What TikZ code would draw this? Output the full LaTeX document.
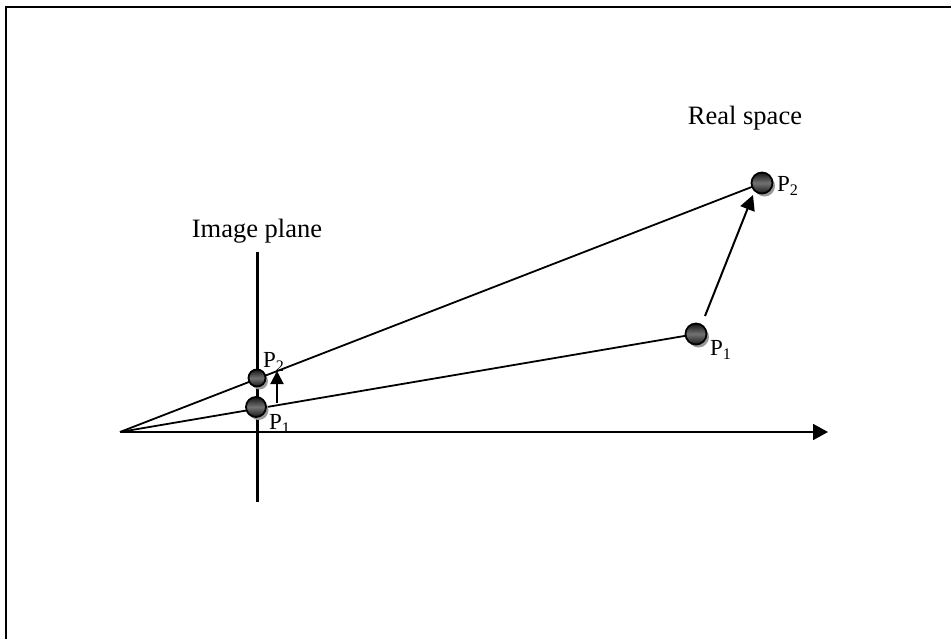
\documentclass[tikz,border=0pt]{standalone}
\usepackage{fontspec}
\setmainfont{Liberation Serif}
\usetikzlibrary{arrows.meta,backgrounds,shadows}
\begin{document}
\begin{tikzpicture}[x=1pt,y=-1pt,
  ball/.style={circle,draw=black,line width=1.8pt,inner sep=0pt,minimum size=#1,
    top color=black!92,bottom color=black!90,middle color=black!55,
    drop shadow={shadow xshift=2.5pt,shadow yshift=-3pt,fill=black!40,opacity=1}},
  ball/.default=20pt,
  lbl/.style={inner sep=0pt,font=\fontsize{23}{26}\selectfont},
  ttl/.style={inner sep=0pt,font=\fontsize{26.5}{30}\selectfont},
  ray/.style={line width=1.8pt}]
\useasboundingbox (0,0) rectangle (951,638);
\draw[line width=2.2pt] (6,640) -- (6,7) -- (951,7);
\coordinate (O) at (120,432);
\coordinate (axisend) at (828,432);
\coordinate (ptop) at (257,252);
\coordinate (pbot) at (257,502);
\node[ball=21pt] (rP1) at (696,334) {};
\node[ball=21pt] (rP2) at (762,183) {};
\node[ball=17pt] (iP2) at (257,378) {};
\node[ball=20pt] (iP1) at (256,407) {};
\begin{pgfonlayer}{background}
\draw[line width=3pt] (ptop) -- (pbot);
\draw[ray,-{Triangle[length=15pt,width=16pt]}] (O) -- (axisend);
\draw[ray] (O) -- (rP2.center);
\draw[ray] (O) -- (rP1.center);
\end{pgfonlayer}
\coordinate (sa) at (277,403);
\coordinate (sb) at (277,371);
\draw[line width=2pt,-{Triangle[length=13pt,width=13pt]}] (sa) -- (sb);
\coordinate (ra) at (705,316);
\coordinate (rb) at (753,195);
\draw[line width=2pt,-{Triangle[length=15pt,width=15pt]}] (ra) -- (rb);
\node[ttl] (rs) at (745,118) {Real space};
\node[ttl] (ip) at (257,231) {Image plane};
\node[lbl,anchor=west] (lrP2) at (777,186) {P\textsubscript{2}};
\node[lbl,anchor=west] (lrP1) at (710,350) {P\textsubscript{1}};
\node[lbl,anchor=west] (liP2) at (263,362) {P\textsubscript{2}};
\node[lbl,anchor=west] (liP1) at (269,424) {P\textsubscript{1}};
\end{tikzpicture}
\end{document}
